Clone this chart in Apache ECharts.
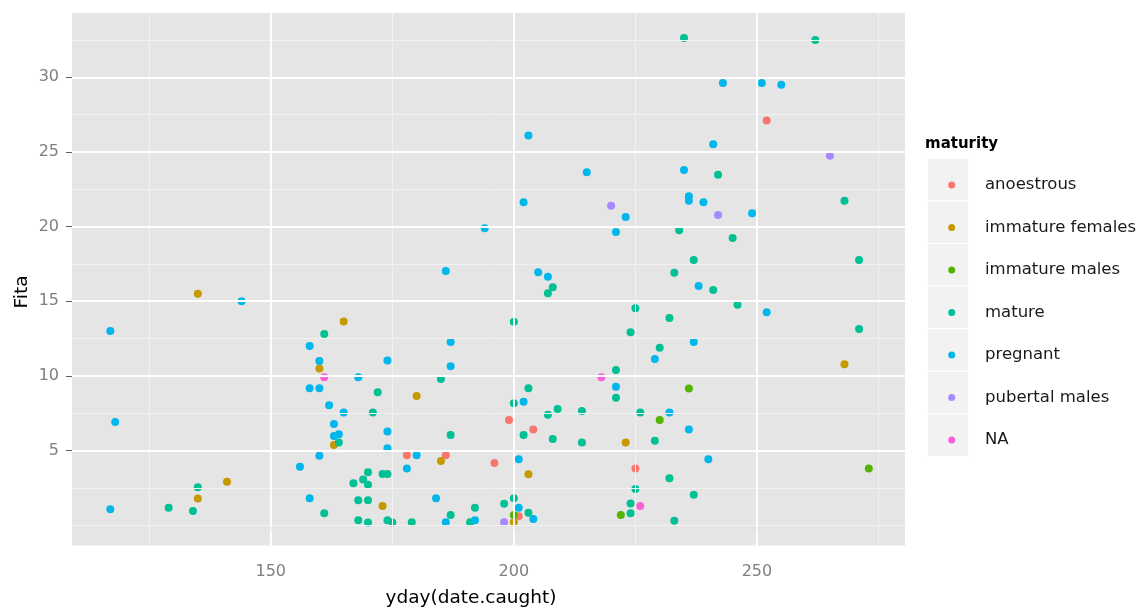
<!DOCTYPE html>
<html><head><meta charset="utf-8">
<script src="https://cdn.jsdelivr.net/npm/echarts@6/dist/echarts.min.js"></script>
<style>html,body{margin:0;padding:0;background:#fff}#c{width:1143px;height:608px}</style>
</head><body><div id="c"></div>
<script>
const categories = ['anoestrous','immature females','immature males','mature','pregnant','pubertal males','NA'];
const colors = ['#F8766D','#C49A00','#53B400','#00C094','#00B6EB','#A58AFF','#FB61D7'];

const anoestrous = [[252,27.1],[199,7.05],[204,6.4],[178,4.68],[186,4.68],[196,4.17],[225,3.79],[201,0.6]];
const immatureFemales = [[135,15.5],[165,13.65],[160,10.5],[163,5.37],[141,2.91],[135,1.78],[173,1.29],[180,8.65],[185,4.3],[203,3.41],[223,5.53],[268,10.78],[200,0.19]];
const immatureMales = [[236,9.15],[230,7.04],[273,3.79],[222,0.68],[200,0.68]];
const mature = [[161,12.8],[164,5.53],[135,2.54],[129,1.17],[134,0.95],[161,0.8],
  [167,2.81],[170,3.54],[169,3.05],[170,2.71],
  [168,1.67],[170,1.67],[168,0.32],[170,0.18],[174,0.33],[175,0.18],
  [173,3.43],[174,3.43],[172,8.9],[171,7.54],
  [207,15.53],[208,15.93],[200,13.63],[225,14.53],[224,12.92],[185,9.79],
  [221,10.4],[221,8.54],[203,9.17],[200,8.16],[207,7.4],[209,7.78],[214,7.65],[226,7.54],
  [202,6.04],[187,6.04],[208,5.77],[214,5.53],[225,2.42],
  [179,0.19],[187,0.68],[191,0.19],[192,1.17],[198,1.44],[200,1.8],[203,0.83],
  [224,0.8],[224,1.45],
  [241,15.75],[246,14.77],[232,13.88],[271,13.14],[230,11.89],[229,5.65],[232,3.15],[237,2.03],[233,0.3],
  [235,32.63],[262,32.5],[242,23.48],[268,21.73],[234,19.75],[245,19.24],[237,17.76],[271,17.76],[233,16.91]];
const pregnant = [[117,13.0],[144,15.0],[158,12.0],[160,11.0],[168,9.9],[158,9.17],[160,9.17],[162,8.03],[165,7.54],[118,6.91],[163,6.78],[163,5.97],[164,6.09],[160,4.65],[156,3.92],[158,1.8],[117,1.06],
  [174,11.03],[174,6.27],[174,5.16],[187,12.27],[187,10.64],[221,9.28],[202,8.27],[180,4.68],[178,3.79],[201,4.41],[184,1.8],[186,0.19],[192,0.33],[201,1.17],[204,0.41],
  [238,16.02],[252,14.26],[237,12.27],[229,11.13],[232,7.54],[236,6.41],[240,4.41],
  [203,26.1],[215,23.64],[202,21.63],[223,20.64],[221,19.64],[194,19.89],[186,17.03],[205,16.94],[207,16.64],
  [243,29.62],[251,29.62],[255,29.5],[241,25.51],[235,23.79],[236,22.03],[236,21.73],[239,21.63],[249,20.89]];
const pubertalMales = [[220,21.4],[265,24.75],[242,20.78],[198,0.19]];
const naGroup = [[161,9.9],[218,9.9],[226,1.29]];

const xTicks = [150,200,250];
const xMinor = [125,175,225,275];
const yTicks = [5,10,15,20,25,30];
const yMinor = [0,2.5,7.5,12.5,17.5,22.5,27.5,32.5];
const xTitle = 'yday(date.caught)';
const yTitle = 'Fita';
const legendTitle = 'maturity';

const groups = [anoestrous, immatureFemales, immatureMales, mature, pregnant, pubertalMales, naGroup];
const FONT = '"DejaVu Sans", Verdana, sans-serif';

const chart = echarts.init(document.getElementById('c'), null, {renderer:'canvas'});

const minorStyle = {color:'#F2F2F2', width:1, type:'solid'};
const majorStyle = {color:'#FFFFFF', width:1.8, type:'solid'};
const gridLines = [].concat(
  xMinor.map(v => ({xAxis:v, lineStyle:minorStyle})),
  yMinor.map(v => ({yAxis:v, lineStyle:minorStyle})),
  xTicks.map(v => ({xAxis:v, lineStyle:majorStyle})),
  yTicks.map(v => ({yAxis:v, lineStyle:majorStyle}))
);

const series = [{
  type:'scatter', name:'_grid', data:[], silent:true, z:1,
  markLine:{silent:true, symbol:['none','none'], label:{show:false}, animation:false,
    emphasis:{disabled:true}, data:gridLines}
}].concat(groups.map((g,i) => ({
  type:'scatter', name:categories[i], data:g, symbol:'circle', symbolSize:8, z:2,
  itemStyle:{color:colors[i], opacity:1}, emphasis:{disabled:true}
})));

const keyRects = categories.map((c,i) => ({
  type:'rect', z:0,
  shape:{x:927.7, y:158.3 + i*42.6, width:40.6, height:42.6},
  style:{fill:'#F2F2F2', stroke:'#FFFFFF', lineWidth:1}
}));

chart.setOption({
  animation:false,
  backgroundColor:'#FFFFFF',
  grid:{left:72, right:238, top:13, bottom:62.4, show:true, backgroundColor:'#E5E5E5', borderWidth:0},
  xAxis:{type:'value', min:109.12, max:280.45,
    axisLine:{show:false}, splitLine:{show:false},
    axisTick:{show:true, length:7, lineStyle:{color:'#5F5F5F', width:1}, customValues:xTicks},
    axisLabel:{customValues:xTicks, color:'#7F7F7F', fontSize:16, fontFamily:FONT, margin:18}},
  yAxis:{type:'value', min:-1.37, max:34.31,
    axisLine:{show:false}, splitLine:{show:false},
    axisTick:{show:true, length:6, lineStyle:{color:'#5F5F5F', width:1}, customValues:yTicks},
    axisLabel:{customValues:yTicks, color:'#7F7F7F', fontSize:16, fontFamily:FONT, margin:13}},
  legend:{data:categories, orient:'vertical', left:943.2, top:171, icon:'circle',
    itemWidth:7, itemHeight:7, itemGap:24.5, selectedMode:false, z:10,
    textStyle:{fontSize:16.5, fontFamily:FONT, color:'#1A1A1A', lineHeight:18, padding:[0,0,0,24.8]}},
  graphic:[
    {type:'group', z:0, children:keyRects},
    {type:'text', z:5, x:925, y:144, style:{text:legendTitle, font:'bold 15px ' + FONT, fill:'#000', verticalAlign:'middle', align:'left'}},
    {type:'text', z:5, x:471, y:598, style:{text:xTitle, font:'18.5px ' + FONT, fill:'#000', verticalAlign:'middle', align:'center'}},
    {type:'text', z:5, x:22, y:292, rotation:Math.PI/2, style:{text:yTitle, font:'18.5px ' + FONT, fill:'#000', verticalAlign:'middle', align:'center'}}
  ],
  series:series
});
</script></body></html>
